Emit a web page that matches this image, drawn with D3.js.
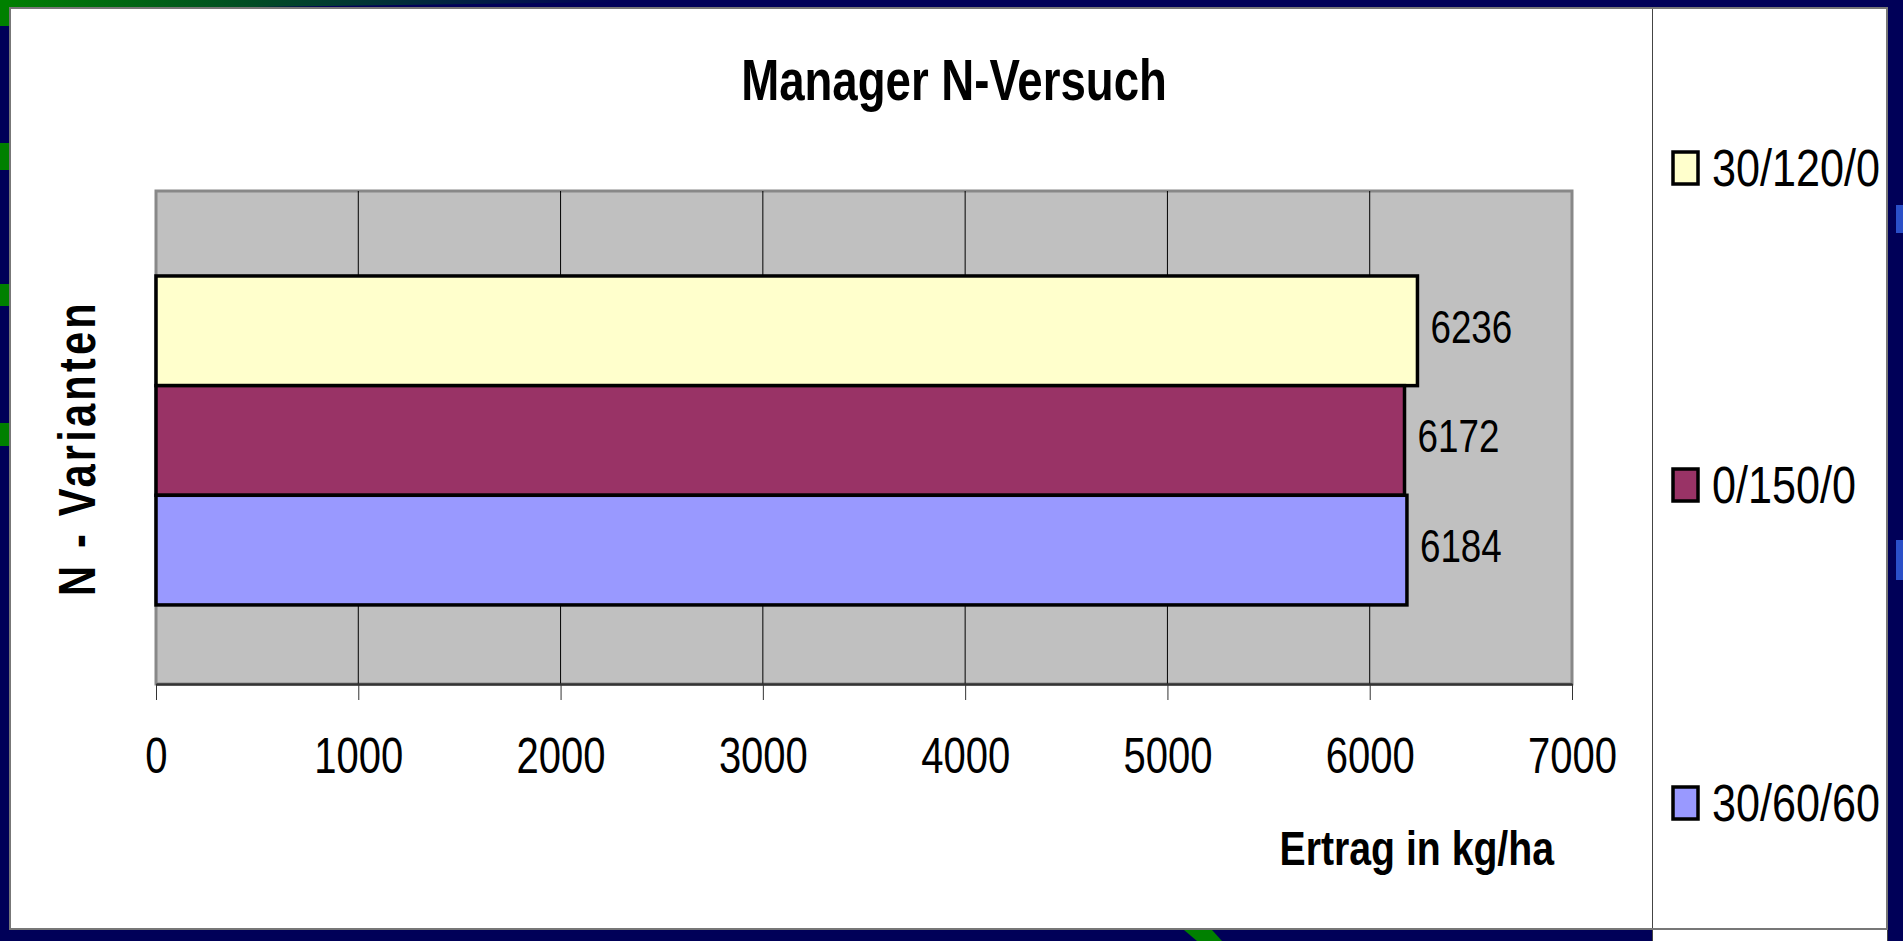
<!DOCTYPE html>
<html lang="de">
  <head>
    <meta charset="utf-8">
    <title>Manager N-Versuch</title>
    <script src="https://d3js.org/d3.v7.min.js"></script>
    <style>
      body { margin: 0; background-color: #000058; }
      svg { display: block; font-family: 'Liberation Sans', Arial, sans-serif; }
    </style>
  </head>
  <body>
  <div id="chart"></div>
  <script>

  // data (top to bottom)
  var categories = ["30/120/0", "0/150/0", "30/60/60"];
  var values = [6236, 6172, 6184];
  var colors = ["#ffffcc", "#993366", "#9999ff"];
  var xTicks = [0, 1000, 2000, 3000, 4000, 5000, 6000, 7000];

  var W = 1903, H = 941;
  // text in the original is squeezed horizontally
  var squeeze = 0.8;

  var plot = {left: 156, right: 1572, top: 191, bottom: 684};

  var svg = d3.select("#chart")
    .append("svg")
      .attr("width", W)
      .attr("height", H);

  // slide background and its decorations
  svg.append("rect").attr("width", W).attr("height", H).attr("fill", "#000058");

  var defs = svg.append("defs");
  var grad = defs.append("linearGradient").attr("id", "topstripe");
  grad.append("stop").attr("offset", "0%").attr("stop-color", "#008000");
  grad.append("stop").attr("offset", "100%").attr("stop-color", "#000058");

  svg.append("polygon").attr("points", "0,0 620,0 620,2 100,9 0,9").attr("fill", "url(#topstripe)");
  [[0, 26], [143, 170], [284, 306], [423, 446]].forEach(function(s) {
    svg.append("rect").attr("x", 0).attr("y", s[0]).attr("width", 10)
      .attr("height", s[1] - s[0]).attr("fill", "#008000");
  });
  svg.append("polygon").attr("points", "1184,930 1212,930 1222,941 1197,941").attr("fill", "#008000");
  [[205, 233], [540, 580]].forEach(function(s) {
    svg.append("rect").attr("x", 1896).attr("y", s[0]).attr("width", 7)
      .attr("height", s[1] - s[0]).attr("fill", "#2a4fc8");
  });

  // chart frame and legend box
  svg.append("rect").attr("x", 10).attr("y", 8).attr("width", 1877).attr("height", 921)
    .attr("fill", "white");
  svg.append("rect").attr("x", 1652.5).attr("y", 8).attr("width", 235).attr("height", 945)
    .attr("fill", "white").attr("stroke", "#444").attr("stroke-width", 1);
  svg.append("rect").attr("x", 10).attr("y", 8).attr("width", 1877).attr("height", 921)
    .attr("fill", "none").attr("stroke", "#777").attr("stroke-width", 2);

  function label(x, y, str, size, opts) {
    opts = opts || {};
    return svg.append("text")
      .attr("transform", "translate(" + x + "," + y + ")" + (opts.rotate ? " rotate(" + opts.rotate + ")" : "") +
            " scale(" + (opts.sx || squeeze) + ",1)")
      .attr("text-anchor", opts.anchor || "start")
      .attr("font-size", size)
      .attr("font-weight", opts.bold ? "bold" : "normal")
      .attr("letter-spacing", opts.spacing || null)
      .attr("fill", "black")
      .text(str);
  }

  // scales
  var x = d3.scaleLinear()
    .domain([0, 7000])
    .range([plot.left, plot.right]);

  var y = d3.scaleBand()
    .domain(categories)
    .range([plot.top, plot.bottom])
    .paddingInner(0)
    .paddingOuter(0.748)
    .align(0.518);

  // plot area
  svg.append("rect")
    .attr("x", plot.left).attr("y", plot.top)
    .attr("width", plot.right - plot.left).attr("height", plot.bottom - plot.top)
    .attr("fill", "#c0c0c0").attr("stroke", "#888").attr("stroke-width", 3);

  svg.append("g").selectAll("line")
    .data(xTicks.slice(1, -1))
    .enter().append("line")
      .attr("x1", function(d) { return x(d); })
      .attr("x2", function(d) { return x(d); })
      .attr("y1", plot.top)
      .attr("y2", plot.bottom)
      .attr("stroke", "black")
      .attr("stroke-width", 1);

  // x axis
  var xAxis = svg.append("g")
    .attr("transform", "translate(0," + plot.bottom + ")")
    .call(d3.axisBottom(x).tickValues(xTicks).tickSize(16).tickSizeOuter(0).tickFormat(d3.format("d")));
  xAxis.select(".domain").attr("stroke", "#333").attr("stroke-width", 2.5);
  xAxis.selectAll(".tick line").attr("stroke", "#333");
  xAxis.selectAll(".tick text")
    .attr("y", 89).attr("dy", null)
    .attr("transform", "scale(" + squeeze + ",1)")
    .attr("font-family", "'Liberation Sans', Arial, sans-serif")
    .attr("font-size", 50)
    .attr("fill", "black");

  // bars
  svg.append("g").selectAll("rect")
    .data(values)
    .enter().append("rect")
      .attr("x", x(0))
      .attr("y", function(d, i) { return y(categories[i]); })
      .attr("width", function(d) { return x(d) - x(0); })
      .attr("height", y.bandwidth())
      .attr("fill", function(d, i) { return colors[i]; })
      .attr("stroke", "black")
      .attr("stroke-width", 3.5);

  values.forEach(function(v, i) {
    label(x(v) + 13, y(categories[i]) + y.bandwidth() / 2 + 12, v, 46);
  });

  // titles
  label(954, 100, "Manager N-Versuch", 57, {anchor: "middle", bold: true});
  label(1554, 865, "Ertrag in kg/ha", 49, {anchor: "end", bold: true});
  label(95, 448, "N - Varianten", 52, {anchor: "middle", bold: true, rotate: -90, sx: 0.8, spacing: 4});

  // legend
  var legendY = [168, 485, 803];
  categories.forEach(function(c, i) {
    svg.append("rect")
      .attr("x", 1673).attr("y", legendY[i] - 16)
      .attr("width", 25).attr("height", 32)
      .attr("fill", colors[i]).attr("stroke", "black").attr("stroke-width", 3.5);
    label(1712, legendY[i] + 18, c, 52, {sx: 0.83});
  });

</script>
  </body>
</html>
